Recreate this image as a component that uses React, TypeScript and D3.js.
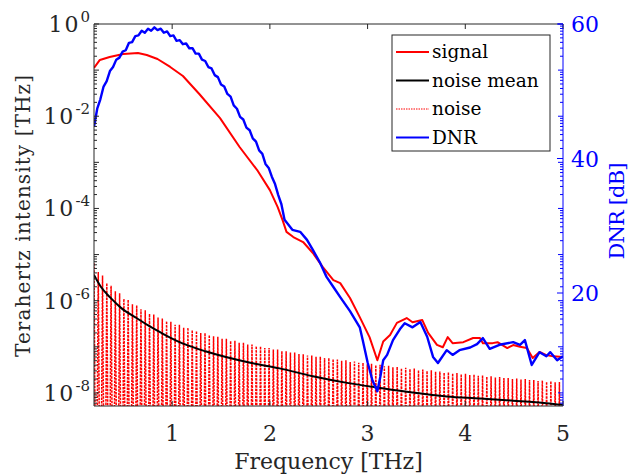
import React from 'react';
import * as d3 from 'd3';

// signal spectrum (a.u.)
const sigFreq = [0.2, 0.26, 0.36, 0.5, 0.65, 0.74, 0.85, 0.98, 1.11, 1.28, 1.49, 1.69, 1.87, 2.0, 2.08, 2.13, 2.17, 2.24, 2.34, 2.44, 2.54, 2.65, 2.72, 2.82, 2.92, 3.02, 3.1, 3.16, 3.23, 3.3, 3.4, 3.46, 3.56, 3.62, 3.71, 3.77, 3.82, 3.87, 3.98, 4.08, 4.15, 4.18, 4.28, 4.33, 4.43, 4.49, 4.56, 4.63, 4.69, 4.76, 4.83, 4.9, 5.0];
const signal = [0.111, 0.166, 0.192, 0.224, 0.235, 0.213, 0.174, 0.117, 0.0745, 0.03, 9.1e-3, 2.15e-3, 6.8e-4, 2.5e-4, 1.07e-4, 5.6e-5, 3.1e-5, 2.4e-5, 1.87e-5, 1.08e-5, 5.4e-6, 2.8e-6, 2.4e-6, 1.14e-6, 4.4e-7, 1.62e-7, 5.1e-8, 1.3e-7, 1.8e-7, 3.3e-7, 4.2e-7, 3.4e-7, 3.8e-7, 2.0e-7, 1.1e-7, 9.8e-8, 1.62e-7, 1.2e-7, 1.26e-7, 1.55e-7, 1.55e-7, 1.2e-7, 1.2e-7, 1.26e-7, 9.4e-8, 1.09e-7, 1.0e-7, 9.4e-8, 5.7e-8, 7.7e-8, 6.6e-8, 6.2e-8, 6.0e-8];

// mean of noise
const meanFreq = [0.2, 0.27, 0.37, 0.48, 0.62, 0.75, 0.89, 1.03, 1.16, 1.34, 1.8, 2.1, 2.44, 2.79, 3.13, 3.46, 3.81, 4.15, 4.49, 4.83, 5.0];
const noiseMean = [3.6e-6, 2.0e-6, 1.15e-6, 6.9e-7, 4.4e-7, 2.95e-7, 2.0e-7, 1.4e-7, 1.07e-7, 8.0e-8, 4.5e-8, 3.4e-8, 2.3e-8, 1.65e-8, 1.28e-8, 1.02e-8, 8.4e-9, 7.6e-9, 6.8e-9, 6.0e-9, 5.5e-9];

// noise: peak of each stripe, troughs fall below the axis
const noiseStart = 0.2;
const noiseStep = 0.0437;
const noiseFloor = 1e-12;
const noisePeaks = [
  6.5e-6, 4.2e-6, 3.5e-6, 2.4e-6, 2.1e-6, 1.6e-6, 1.45e-6, 1.1e-6, 1.05e-6, 8.4e-7,
  7.9e-7, 6.5e-7, 6.2e-7, 5.2e-7, 5.0e-7, 4.3e-7, 4.1e-7, 3.6e-7, 3.5e-7, 3.0e-7,
  3.0e-7, 2.6e-7, 2.6e-7, 2.3e-7, 2.2e-7, 2.0e-7, 2.0e-7, 1.8e-7, 1.7e-7, 1.65e-7,
  1.5e-7, 1.5e-7, 1.35e-7, 1.35e-7, 1.22e-7, 1.22e-7, 1.12e-7, 1.12e-7, 1.03e-7, 1.02e-7,
  9.4e-8, 9.4e-8, 8.7e-8, 8.7e-8, 8.1e-8, 8.0e-8, 7.5e-8, 7.5e-8, 7.0e-8, 6.9e-8,
  6.5e-8, 6.5e-8, 6.1e-8, 6.1e-8, 5.7e-8, 5.7e-8, 5.4e-8, 5.3e-8, 5.0e-8, 5.1e-8,
  4.7e-8, 4.8e-8, 4.5e-8, 4.5e-8, 4.2e-8, 4.3e-8, 4.0e-8, 4.1e-8, 3.8e-8, 3.9e-8,
  3.6e-8, 3.7e-8, 3.4e-8, 3.5e-8, 3.3e-8, 3.4e-8, 3.1e-8, 3.2e-8, 3.0e-8, 3.1e-8,
  2.9e-8, 2.9e-8, 2.75e-8, 2.8e-8, 2.65e-8, 2.7e-8, 2.55e-8, 2.6e-8, 2.45e-8, 2.5e-8,
  2.35e-8, 2.4e-8, 2.25e-8, 2.3e-8, 2.15e-8, 2.2e-8, 2.1e-8, 2.1e-8, 2.0e-8, 2.05e-8,
  1.95e-8, 2.0e-8, 1.9e-8, 1.9e-8, 1.8e-8, 1.85e-8, 1.75e-8, 1.8e-8, 1.7e-8, 1.72e-8,
];

// dynamic range (dB, right axis), with the small ripple of the rising/falling part
const dnrFreq = [
  0.2, 0.233, 0.265, 0.298, 0.33, 0.363, 0.395, 0.428, 0.46, 0.493,
  0.525, 0.558, 0.59, 0.623, 0.655, 0.688, 0.72, 0.753, 0.785, 0.818,
  0.85, 0.883, 0.915, 0.948, 0.98, 1.013, 1.045, 1.078, 1.11, 1.143,
  1.175, 1.208, 1.24, 1.273, 1.305, 1.338, 1.37, 1.403, 1.435, 1.468,
  1.5, 1.533, 1.565, 1.598, 1.63, 1.663, 1.695, 1.728, 1.76, 1.793,
  1.825, 1.858, 1.89, 1.923, 1.955, 1.988, 2.02, 2.053, 2.085, 2.118,
  2.15, 2.23, 2.31, 2.38, 2.44, 2.51, 2.58, 2.65, 2.72, 2.82, 2.92, 2.95, 3.0, 3.05, 3.1, 3.13, 3.16, 3.2, 3.26, 3.33, 3.38, 3.46, 3.54, 3.61, 3.67, 3.72, 3.81, 3.87, 3.94, 4.05, 4.12, 4.18, 4.25, 4.35, 4.49, 4.56, 4.61, 4.68, 4.76, 4.83, 4.87, 4.94, 5.0,
];
const dnr = [
  44.7, 47.4, 48.8, 50.7, 51.5, 53.0, 53.6, 54.7, 55.0, 55.9,
  56.1, 57.2, 57.3, 58.2, 58.3, 59.0, 58.7, 59.3, 59.0, 59.5,
  59.1, 59.3, 58.7, 58.9, 58.2, 58.3, 57.5, 57.6, 57.0, 57.1,
  56.4, 56.4, 55.6, 55.6, 54.7, 54.5, 53.6, 53.4, 52.4, 52.1,
  51.0, 50.7, 49.6, 49.2, 47.9, 47.4, 46.2, 45.8, 44.6, 44.2,
  43.0, 42.5, 41.2, 40.7, 39.2, 38.6, 37.3, 36.2, 34.6, 33.2,
  30.9, 29.4, 29.1, 27.9, 26.4, 24.6, 22.4, 20.9, 19.4, 17.3, 14.9, 13.0, 9.7, 7.0, 5.4, 7.5, 10.0, 10.8, 13.0, 14.6, 15.5, 14.9, 15.7, 13.5, 10.5, 9.6, 11.5, 10.8, 11.5, 11.9, 12.4, 13.3, 11.7, 12.3, 12.7, 12.3, 13.0, 9.3, 11.2, 10.6, 11.2, 10.0, 10.6,
];

const xTicks = [1, 2, 3, 4, 5];
const yExpLabels = [0, -2, -4, -6, -8];
const dnrTicks = [20, 40, 60];
const legendItems = ['signal', 'noise mean', 'noise', 'DNR'];

const W = 632;
const H = 474;
const L = 94, R = 563, T = 24, B = 406;
const FONT = 'DejaVu Serif';
const AX = '#262626';
const BLUE = '#0000ff';
const RED = '#ff0000';

const App = () => {
  const x = d3.scaleLinear().domain([0.2, 5]).range([L, R]);
  const y = d3.scaleLog().domain([5.2e-9, 1]).range([B, T]);
  const yR = d3.scaleLinear().domain([3.2, 60]).range([B, T]);

  const sigLine = d3.line<number>().x((_, i) => x(sigFreq[i])).y((d) => y(d))(signal);
  const meanLine = d3.line<number>().x((_, i) => x(meanFreq[i])).y((d) => y(d)).curve(d3.curveMonotoneX)(noiseMean);
  const dnrLine = d3.line<number>().x((_, i) => x(dnrFreq[i])).y((d) => yR(d))(dnr);

  const noisePts: [number, number][] = [];
  noisePeaks.forEach((p, i) => {
    const f = noiseStart + i * noiseStep;
    noisePts.push([f, p]);
    noisePts.push([f + noiseStep / 2, noiseFloor]);
  });
  const noiseLine = d3.line<[number, number]>().x((d) => x(d[0])).y((d) => y(d[1]))(noisePts);

  const logTicks = y.ticks();
  const isDecade = (v: number) => Math.abs(Math.log10(v) - Math.round(Math.log10(v))) < 1e-6;

  return (
    <svg width={W} height={H} style={{ position: 'absolute', left: 0, top: 0, background: '#fff' }} fontFamily={FONT}>
      <defs>
        <clipPath id="plot">
          <rect x={L} y={T} width={R - L} height={B - T} />
        </clipPath>
      </defs>

      <g clipPath="url(#plot)" fill="none">
        <path d={noiseLine || ''} stroke={RED} strokeWidth={1.5} strokeDasharray="2.5 1" />
        <path d={meanLine || ''} stroke="#000" strokeWidth={2} />
        <path d={sigLine || ''} stroke={RED} strokeWidth={2} strokeLinejoin="round" />
        <path d={dnrLine || ''} stroke={BLUE} strokeWidth={2.4} strokeLinejoin="round" />
      </g>

      {/* box */}
      <line x1={L} x2={R} y1={T} y2={T} stroke={AX} />
      <line x1={L} x2={R} y1={B} y2={B} stroke={AX} />
      <line x1={L} x2={L} y1={T} y2={B} stroke={AX} />
      <line x1={R} x2={R} y1={T} y2={B} stroke={BLUE} />

      {/* x ticks */}
      {xTicks.map((t) => (
        <g key={t}>
          <line x1={x(t)} x2={x(t)} y1={B} y2={B - 5} stroke={AX} />
          <line x1={x(t)} x2={x(t)} y1={T} y2={T + 5} stroke={AX} />
          <text x={x(t)} y={441} textAnchor="middle" fontSize={22} fill={AX}>{t}</text>
        </g>
      ))}

      {/* log ticks left (black) and right (blue) */}
      {logTicks.map((v, i) => {
        const len = isDecade(v) ? 5 : 3;
        return (
          <g key={i}>
            <line x1={L} x2={L + len} y1={y(v)} y2={y(v)} stroke={AX} />
            <line x1={R} x2={R - len} y1={y(v)} y2={y(v)} stroke={BLUE} />
          </g>
        );
      })}
      {yExpLabels.map((e) => (
        <text key={e} x={90} y={y(Math.pow(10, e)) + 8} textAnchor="end" fontSize={22} fill={AX}>
          <tspan letterSpacing={2}>10</tspan>
          <tspan dy={-10} fontSize={15}>{e === 0 ? '0' : '-' + Math.abs(e)}</tspan>
        </text>
      ))}

      {/* right DNR ticks */}
      {dnrTicks.map((t) => (
        <g key={t}>
          <line x1={R} x2={R - 6} y1={yR(t)} y2={yR(t)} stroke={BLUE} />
          <text x={571} y={yR(t) + 8} fontSize={22} fill={BLUE}>{t}</text>
        </g>
      ))}

      {/* axis labels */}
      <text x={(L + R) / 2} y={469} textAnchor="middle" fontSize={22} fill={AX}>Frequency [THz]</text>
      <text transform={`translate(30,216) rotate(-90)`} textAnchor="middle" fontSize={20} textLength={282} fill={AX}>Terahertz intensity [THz]</text>
      <text transform={`translate(624,211) rotate(-90)`} textAnchor="middle" fontSize={21} textLength={97} fill={BLUE}>DNR [dB]</text>

      {/* legend */}
      <g>
        <rect x={392} y={35} width={158} height={116} fill="#fff" stroke={AX} />
        {legendItems.map((name, i) => {
          const ly = 52 + i * 28.5;
          const stroke = name === 'noise mean' ? '#000' : name === 'DNR' ? BLUE : RED;
          return (
            <g key={name}>
              <line x1={396} x2={429} y1={ly} y2={ly} stroke={stroke} strokeWidth={name === 'noise' ? 1 : 2} strokeDasharray={name === 'noise' ? '1.5 1' : undefined} />
              <text x={432} y={ly + 6} fontSize={18.5} fill="#000">{name}</text>
            </g>
          );
        })}
      </g>
    </svg>
  );
};

export default App;
